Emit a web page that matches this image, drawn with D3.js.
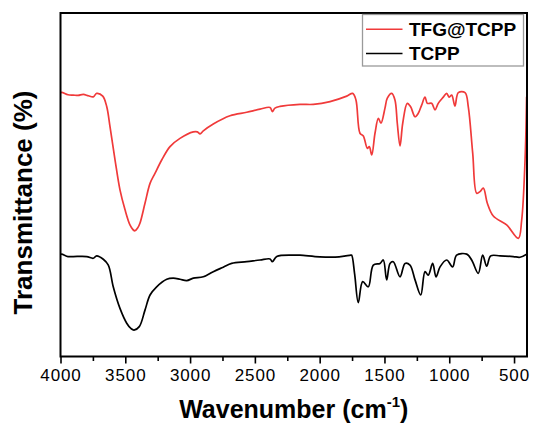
<!DOCTYPE html>
<html>
<head>
<meta charset="utf-8">
<script src="https://cdn.jsdelivr.net/npm/d3@7"></script>
<style>
  body { margin: 0; background: #fff; }
  svg text { font-family: "Liberation Sans", Arial, sans-serif; }
</style>
</head>
<body>
<svg id="chart" width="533" height="423"></svg>
<script>
// FTIR spectra, [wavenumber, transmittance (a.u., offset)]
var tfgTcpp = [[4000,76.7],[3991,76.9],[3942,76.2],[3901,76.1],[3864,76.0],[3824,76.3],[3785,75.9],[3747,75.6],[3721,76.6],[3674,75.8],
  [3643,72.7],[3618,66.9],[3579,57.2],[3541,48.5],[3502,42.7],[3464,38.3],[3440,36.9],[3425,36.6],[3405,37.4],[3387,38.8],[3348,44.6],[3309,50.4],
  [3271,53.3],[3219,57.2],[3155,61.1],[3078,63.5],[2975,65.4],[2944,65.4],[2923,64.8],[2898,65.7],[2821,67.7],[2692,70.1],
  [2563,71.1],[2460,72.0],[2383,72.5],[2365,71.3],[2345,72.3],[2306,72.8],[2152,73.4],[2049,73.4],[1920,74.2],[1791,75.8],
  [1745,76.6],[1720,74.7],[1689,65.0],[1663,64.2],[1632,60.6],[1617,61.1],[1598,58.7],[1573,65.0],[1547,69.3],[1527,67.9],
  [1496,72.3],[1478,75.2],[1444,76.6],[1419,74.7],[1401,67.9],[1380,61.3],[1359,67.9],[1324,73.7],[1298,72.7],[1264,69.8],
  [1239,70.8],[1213,73.2],[1187,75.5],[1169,73.7],[1136,73.7],[1110,71.8],[1085,73.7],[1046,75.5],[1020,76.6],[1000,75.5],
  [981,76.1],[956,72.9],[930,76.8],[878,76.8],[853,72.7],[819,59.2],[788,47.5],[763,48.0],[737,49.0],[706,44.6],
  [660,40.9],[557,38.3],[467,34.4],[441,39.7],[415,57.2],[403,75.6]]

var tcpp = [[4000,29.7],[3991,29.8],[3942,29.1],[3901,29.1],[3798,29.1],[3747,28.6],[3721,29.3],[3670,28.3],[3631,26.6],[3593,20.3],
  [3541,14.0],[3489,9.7],[3455,8.1],[3433,7.7],[3392,8.7],[3348,13.5],[3309,17.9],[3258,20.3],[3180,22.5],[3130,22.8],[3078,22.5],
  [3026,22.1],[2975,22.8],[2898,23.2],[2821,24.7],[2744,26.0],[2679,27.1],[2563,27.6],[2460,28.1],[2383,28.4],[2365,27.6],
  [2331,29.1],[2203,29.5],[2152,29.5],[2000,29.0],[1850,29.0],[1760,29.5],[1753,29.5],[1730,24.0],[1702,15.7],[1668,21.8],
  [1625,20.3],[1586,26.6],[1534,27.1],[1509,28.1],[1483,22.3],[1457,27.1],[1432,27.6],[1380,23.2],[1341,27.1],[1303,26.6],
  [1264,22.3],[1220,17.9],[1187,24.7],[1162,23.7],[1128,27.1],[1102,23.2],[1071,26.1],[1020,28.1],[974,26.1],[943,29.5],
  [865,29.8],[827,28.1],[776,24.2],[742,29.5],[711,26.3],[680,29.3],[608,29.3],[506,29.1],[454,28.9],[402,29.8]]

var seriesNames = ["TFG@TCPP", "TCPP"]
var seriesColors = ["#f03a3a", "#000000"]
var majorTicks = [4000, 3500, 3000, 2500, 2000, 1500, 1000, 500]
var minorTicks = [3750, 3250, 2750, 2250, 1750, 1250, 750]

function draw() {
    var margin = { top: 13, right: 6, bottom: 66.5, left: 60.5 }
    var width = 533 - margin.left - margin.right,
        height = 423 - margin.top - margin.bottom

    var svg = d3.select("#chart")
        .append("g")
        .attr("transform", "translate(" + margin.left + "," + margin.top + ")")

    var x = d3.scaleLinear().domain([4000, 400]).range([0, width])
    var y = d3.scaleLinear().domain([0, 100]).range([height, 0])

    svg.append("clipPath").attr("id", "clip")
        .append("rect").attr("width", width).attr("height", height)

    var line = d3.line()
        .x(function (d) { return x(d[0]) })
        .y(function (d) { return y(d[1]) })
        .curve(d3.curveCatmullRom.alpha(0.5))

    var data = [tfgTcpp, tcpp]
    svg.selectAll(".spectrum")
        .data(data)
        .enter()
        .append("path")
        .attr("class", "spectrum")
        .attr("clip-path", "url(#clip)")
        .attr("fill", "none")
        .attr("stroke", function (d, i) { return seriesColors[i] })
        .attr("stroke-width", 1.7)
        .attr("stroke-linejoin", "round")
        .attr("d", line)

    // minor ticks, no labels
    var gMinor = svg.append("g")
        .attr("transform", "translate(0," + height + ")")
        .call(d3.axisBottom(x).tickValues(minorTicks).tickSize(4.5).tickFormat(""))
    gMinor.select(".domain").remove()
    gMinor.selectAll("line").attr("stroke-width", 1.6)

    var gx = svg.append("g")
        .attr("transform", "translate(0," + height + ")")
        .call(d3.axisBottom(x).tickValues(majorTicks).tickSize(7).tickFormat(d3.format("d")))
    gx.select(".domain").remove()
    gx.selectAll("line").attr("stroke-width", 1.6)
    gx.selectAll("text")
        .attr("y", 24)
        .attr("dy", 0)
        .attr("font-size", 17)
        .attr("letter-spacing", 0.9)
        .attr("fill", "#000")
        .style("font-family", "'Liberation Sans', Arial, sans-serif")

    // frame
    svg.append("rect")
        .attr("width", width)
        .attr("height", height)
        .attr("fill", "none")
        .attr("stroke", "#000")
        .attr("stroke-width", 2)

    // legend
    var lg = svg.append("g").attr("transform", "translate(" + (362.5 - margin.left) + "," + (14.5 - margin.top) + ")")
    lg.append("rect")
        .attr("width", 161)
        .attr("height", 51.5)
        .attr("fill", "#fff")
        .attr("stroke", "#9a9a9a")
        .attr("stroke-width", 1.3)
    seriesNames.forEach(function (name, i) {
        var yy = 14.8 + i * 24.2
        lg.append("line")
            .attr("x1", 3.5).attr("x2", 40)
            .attr("y1", yy).attr("y2", yy)
            .attr("stroke", seriesColors[i])
            .attr("stroke-width", 1.6)
        lg.append("text")
            .attr("x", 46.5)
            .attr("y", yy + 6.5)
            .attr("font-size", 19)
            .attr("font-weight", "bold")
            .text(name)
    })

    // axis titles
    var xt = svg.append("text")
        .attr("x", width / 2)
        .attr("y", 418 - margin.top)
        .attr("text-anchor", "middle")
        .attr("font-size", 25)
        .attr("font-weight", "bold")
    xt.append("tspan").text("Wavenumber (cm")
    xt.append("tspan").attr("font-size", 15).attr("dy", -11).text("-1")
    xt.append("tspan").attr("dy", 11).text(")")

    svg.append("text")
        .attr("transform", "translate(" + (32 - margin.left) + "," + (202.5 - margin.top) + ") rotate(-90)")
        .attr("text-anchor", "middle")
        .attr("font-size", 26)
        .attr("font-weight", "bold")
        .text("Transmittance (%)")
}

draw()
</script>
</body>
</html>
